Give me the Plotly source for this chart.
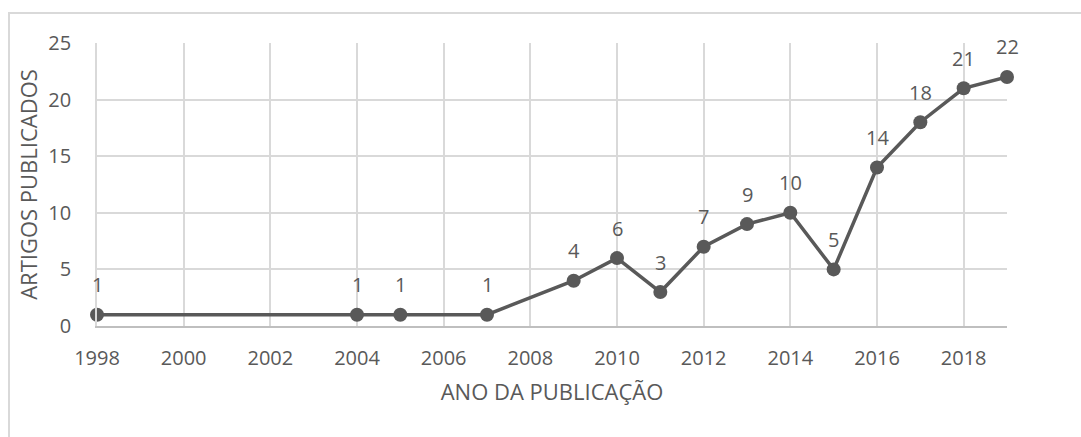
import plotly.graph_objects as go

years = [1998, 2004, 2005, 2007, 2009, 2010, 2011, 2012, 2013, 2014, 2015, 2016, 2017, 2018, 2019]
artigos = [1, 1, 1, 1, 4, 6, 3, 7, 9, 10, 5, 14, 18, 21, 22]
x_ticks = list(range(1998, 2019, 2))
y_ticks = [0, 5, 10, 15, 20, 25]

GRAY = "#595959"
FONT = "Open Sans"

fig = go.Figure()
fig.add_trace(go.Scatter(
    x=years, y=artigos, mode="lines+markers",
    line=dict(color=GRAY, width=3.5),
    marker=dict(color=GRAY, size=14),
    cliponaxis=False,
    hoverinfo="skip", showlegend=False,
))

for xv, yv in zip(years, artigos):
    fig.add_annotation(x=xv, y=yv, text=str(yv), showarrow=False, yshift=30,
                       font=dict(family=FONT, size=20, color=GRAY))

L, R, T, B = 97, 1007, 43, 326
W, H = 1081, 437
pw, ph = R - L, B - T
fig.add_shape(type="rect", xref="paper", yref="paper",
              x0=(9 - L) / pw, x1=(1200 - L) / pw,
              y0=(B - 600) / ph, y1=(B - 13) / ph,
              line=dict(color="#d9d9d9", width=2), fillcolor="rgba(0,0,0,0)", layer="below")

fig.update_layout(
    width=W, height=H,
    margin=dict(l=L, r=W - R, t=T, b=H - B),
    paper_bgcolor="white", plot_bgcolor="white",
    font=dict(family=FONT, color=GRAY),
    xaxis=dict(range=[1998, 2019], tickvals=x_ticks, showgrid=True, gridcolor="#d9d9d9", gridwidth=1.6,
               showline=True, linecolor="#bfbfbf", linewidth=1.6, zeroline=False,
               tickfont=dict(family=FONT, size=20, color=GRAY), ticks="", ticklabelstandoff=13,
               title=dict(text="ANO DA PUBLICAÇÃO", font=dict(family=FONT, size=22, color=GRAY), standoff=15)),
    yaxis=dict(range=[0, 25], tickvals=y_ticks, showgrid=True, gridcolor="#d9d9d9", gridwidth=1.6,
               zeroline=False, showline=True, linecolor="#d9d9d9", linewidth=1.6,
               tickfont=dict(family=FONT, size=20, color=GRAY), ticks="", ticklabelstandoff=20,
               title=dict(text="ARTIGOS PUBLICADOS", font=dict(family=FONT, size=22, color=GRAY), standoff=5)),
)

fig.write_html("out.html")
